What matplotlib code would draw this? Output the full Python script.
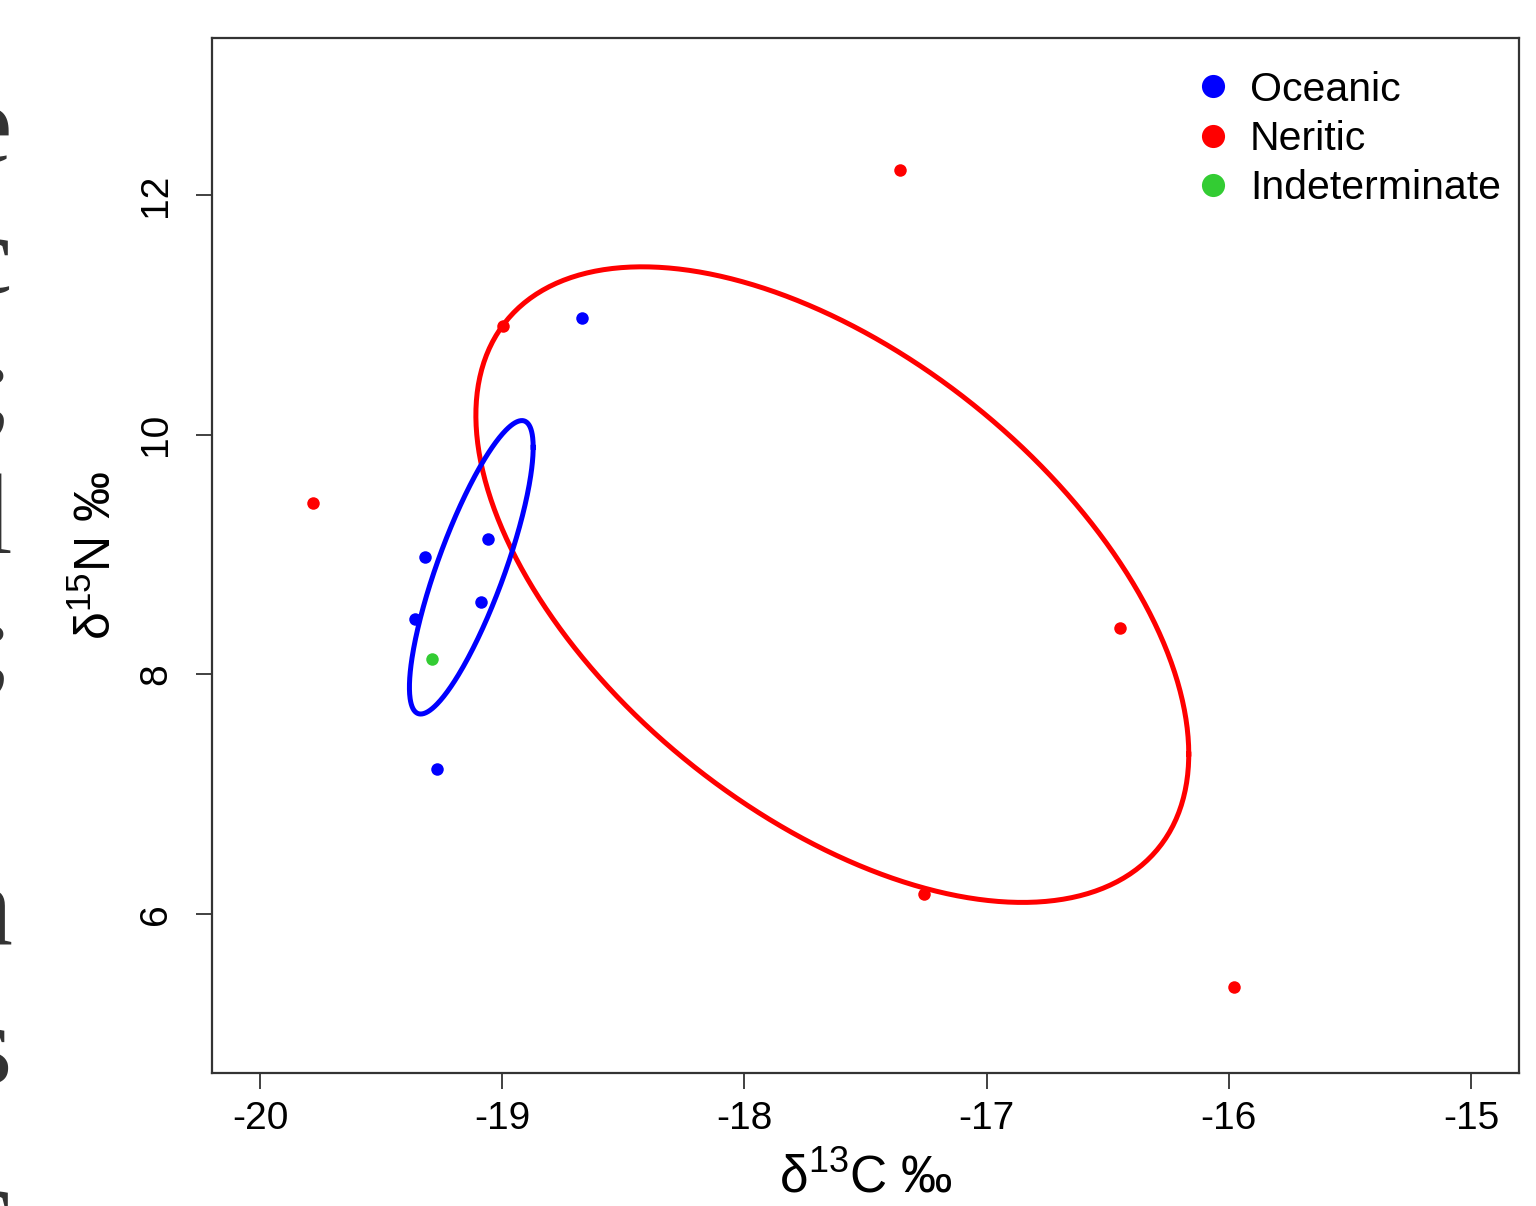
import numpy as np
import matplotlib
matplotlib.use("Agg")
import matplotlib.pyplot as plt

plt.rcParams["font.family"] = ["Liberation Sans", "DejaVu Sans"]
plt.rcParams["mathtext.fontset"] = "custom"
plt.rcParams["mathtext.rm"] = "Liberation Sans"
plt.rcParams["mathtext.it"] = "Liberation Sans:italic"

# d13C / d15N values
oceanic_c = [-18.670, -19.319, -19.059, -19.088, -19.360, -19.269]
oceanic_n = [10.974, 8.979, 9.129, 8.604, 8.462, 7.210]
neritic_c = [-17.358, -18.997, -19.781, -16.449, -17.258, -15.979]
neritic_n = [12.209, 10.907, 9.430, 8.387, 6.167, 5.391]
indet_c = [-19.290]
indet_n = [8.128]

x_ticks = [-20, -19, -18, -17, -16, -15]
y_ticks = [6, 8, 10, 12]

# cut-off letters of the neighbouring page text at the left edge
edge_letters = ["e", "c", ";", "l", ";", "n", "s", "c"]
edge_y = [162, 293, 422, 553, 680, 943, 1083, 1245]

BLUE = "#0000ff"
RED = "#ff0000"
GREEN = "#33cc33"


def std_ellipse(x, y, n=400):
    # standard ellipse (k=1) from the sample covariance
    pts = np.vstack([x, y])
    mu = pts.mean(axis=1)
    L = np.linalg.cholesky(np.cov(pts))
    t = np.linspace(0, 2 * np.pi, n)
    e = L @ np.vstack([np.cos(t), np.sin(t)])
    return mu[0] + e[0], mu[1] + e[1]


fig = plt.figure(figsize=(15.36, 12.06), dpi=100)
ax = fig.add_axes([212 / 1536, 133 / 1206, 1307 / 1536, 1035 / 1206])

ex, ey = std_ellipse(neritic_c, neritic_n)
ax.plot(ex, ey, color=RED, lw=3.6)
ex, ey = std_ellipse(oceanic_c, oceanic_n)
ax.plot(ex, ey, color=BLUE, lw=3.6)

ax.plot(oceanic_c, oceanic_n, "o", color=BLUE, ms=9, mew=0, label="Oceanic")
ax.plot(neritic_c, neritic_n, "o", color=RED, ms=9, mew=0, label="Neritic")
ax.plot(indet_c, indet_n, "o", color=GREEN, ms=9, mew=0, label="Indeterminate")

ax.set_xlim(-20.198, -14.802)
ax.set_ylim(4.673, 13.31)
ax.set_xticks(x_ticks)
ax.set_yticks(y_ticks)
ax.set_xticklabels([str(v) for v in x_ticks])
ax.set_yticklabels([str(v) for v in y_ticks], rotation=90, va="center")
ax.tick_params(axis="both", length=11.5, width=1.3, color="#333333", labelsize=28)
ax.tick_params(axis="x", pad=9)
ax.tick_params(axis="y", pad=16)
for s in ax.spines.values():
    s.set_linewidth(1.6)
    s.set_color("#333333")

ax.set_xlabel("δ$^{13}$C ‰", fontsize=37, labelpad=12)
ax.set_ylabel("δ$^{15}$N ‰", fontsize=36, labelpad=12)

leg = ax.legend(loc="upper right", bbox_to_anchor=(1.008, 0.996), frameon=False,
                fontsize=29.5, markerscale=1.85,
                handlelength=0.6, handletextpad=0.6, labelspacing=0.27,
                borderaxespad=0.2, borderpad=0.5)

for ch, yy in zip(edge_letters, edge_y):
    fig.text(12 / 1536, 1 - yy / 1206, ch, ha="right", va="baseline",
             fontsize=82, family="Liberation Serif", color="#333333")

fig.savefig("out.png", dpi=100)
